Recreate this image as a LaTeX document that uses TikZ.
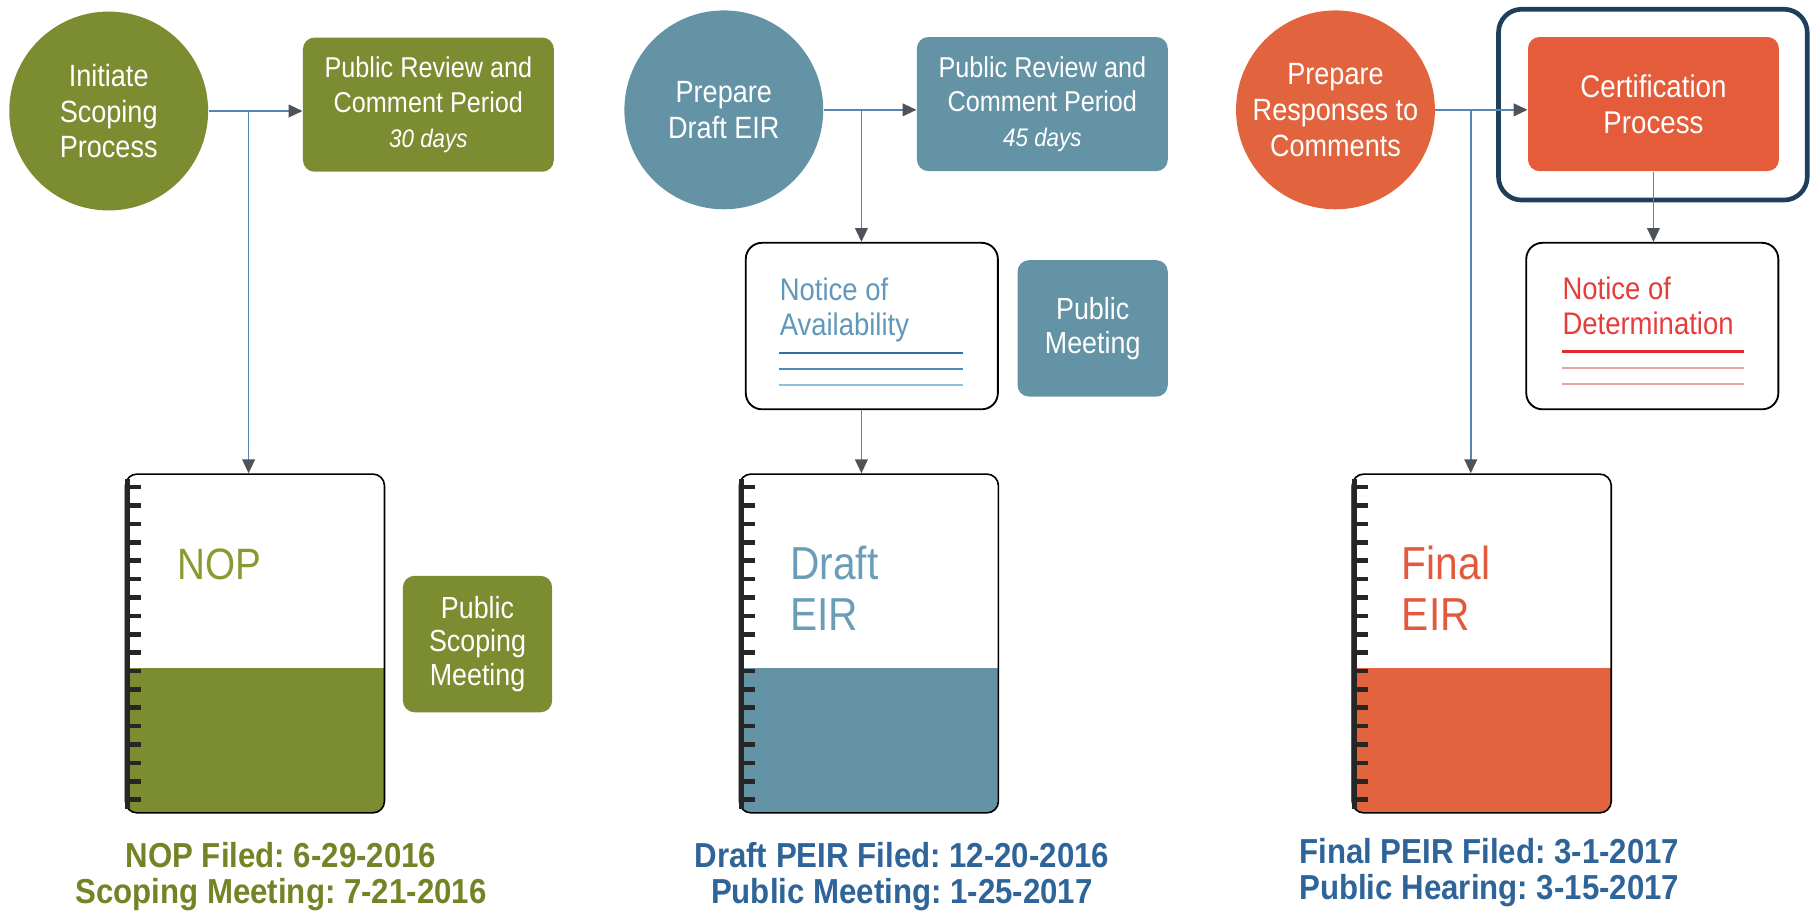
\documentclass[tikz,border=0pt]{standalone}
\usepackage{fontspec}
\setmainfont{Liberation Sans}[FakeStretch=0.88]
\newfontfamily\datefont{Liberation Sans}[FakeStretch=0.9]
\usetikzlibrary{arrows.meta,calc}
\frenchspacing
\definecolor{cgreen}{RGB}{124,140,48}
\definecolor{cblue}{RGB}{100,147,166}
\definecolor{corange}{RGB}{226,100,62}
\definecolor{ccert}{RGB}{228,92,58}
\definecolor{cnavy}{RGB}{31,62,92}
\definecolor{cline}{RGB}{88,132,176}
\definecolor{chead}{RGB}{78,82,90}
\definecolor{tgreen}{RGB}{138,154,48}
\definecolor{tblue}{RGB}{96,152,186}
\definecolor{tbookblue}{RGB}{106,157,184}
\definecolor{tred}{RGB}{228,62,58}
\definecolor{torange}{RGB}{226,90,62}
\definecolor{dgreen}{RGB}{118,130,38}
\definecolor{dblue}{RGB}{46,100,152}
\definecolor{lb1}{RGB}{47,110,168}
\definecolor{lb2}{RGB}{74,140,192}
\definecolor{lb3}{RGB}{140,192,220}
\definecolor{lr1}{RGB}{224,40,50}
\definecolor{lr2}{RGB}{240,160,160}
\tikzset{
  phase/.style={circle, minimum size=86pt, inner sep=0pt, text=white, align=center,
    font=\fontsize{13.3pt}{15.5pt}\selectfont},
  stage/.style={rounded corners=5pt, minimum width=108.5pt, minimum height=58pt, inner sep=0pt,
    text=white, align=center, font=\fontsize{12.4pt}{15pt}\selectfont},
  meet/.style={rounded corners=5pt, minimum width=64.5pt, minimum height=59pt, inner sep=0pt,
    text=white, align=center, font=\fontsize{13.2pt}{14.6pt}\selectfont},
  notice/.style={draw=black, line width=0.8pt, rounded corners=7pt, minimum width=109pt,
    minimum height=72pt, fill=white, inner sep=0pt},
  book/.style={draw=black, line width=0.7pt, rounded corners=5pt, minimum width=112pt,
    minimum height=146.5pt, inner sep=0pt,
    path picture={\fill[#1, sharp corners] ([yshift=62.5pt]path picture bounding box.south west) rectangle (path picture bounding box.south east);}},
  booktext/.style={anchor=north west, inner sep=0pt, align=left, font=\fontsize{20pt}{22pt}\selectfont},
  noticetext/.style={anchor=north west, inner sep=0pt, align=left, font=\fontsize{13.5pt}{15pt}\selectfont},
  datestyle/.style={align=center, inner sep=0pt, font=\datefont\bfseries\fontsize{15pt}{15.5pt}\selectfont},
  arr/.style={draw=cline, line width=0.7pt, -{Triangle[length=6pt,width=5.5pt,color=chead]}},
  spine/.pic={
    \draw[line width=2.4pt, black!85] (2.5,5) -- (2.5,290);
    \foreach \k in {0,...,17} \draw[line width=2pt, black!85] (2.5,{12+15.9*\k}) -- (14,{12+15.9*\k});
  }
}
\begin{document}
\begin{tikzpicture}[x=0.5pt,y=-0.5pt]
\useasboundingbox (0,0) rectangle (1568,788);

% ---------- Column 1 : NOP ----------
\node[phase, fill=cgreen] (c1) at (94,96) {Initiate\\Scoping\\Process};
\node[stage, fill=cgreen] (b1) at (370.5,90.5) {Public Review and\\Comment Period\\{\itshape\fontsize{11pt}{14pt}\selectfont 30 days}};
\coordinate (j1) at (215,96);
\node[book=cgreen] (book1) at (220.5,556.5) {};
\pic at (book1.north west) {spine};
\node[booktext, text=tgreen, font=\fontsize{19pt}{22pt}\selectfont] (t1) at (153,474) {NOP};
\node[meet, fill=cgreen] (m1) at (413,557) {Public\\Scoping\\Meeting};
\node[datestyle, text=dgreen] (d1) at (243,758) {NOP Filed: 6-29-2016\\Scoping Meeting: 7-21-2016};
\draw[arr] (c1) -- (c1 -| b1.west);
\draw[arr] (j1) -- (j1 |- book1.north);

% ---------- Column 2 : Draft EIR ----------
\node[phase, fill=cblue] (c2) at (626,95) {Prepare\\Draft EIR};
\node[stage, fill=cblue] (b2) at (901.5,90) {Public Review and\\Comment Period\\{\itshape\fontsize{11pt}{14pt}\selectfont 45 days}};
\coordinate (j2) at (745,95);
\node[notice] (n1) at (754,282) {};
\node[noticetext, text=tblue] (nt1) at (674,240) {Notice of\\Availability};
\draw[lb1, line width=1pt] (674,305) -- (833,305);
\draw[lb2, line width=0.7pt] (674,319) -- (833,319);
\draw[lb3, line width=0.7pt] (674,333) -- (833,333);
\node[meet, fill=cblue, minimum width=65pt] (m2) at (945,284) {Public\\Meeting};
\node[book=cblue] (book2) at (751.5,556.5) {};
\pic at (book2.north west) {spine};
\node[booktext, text=tbookblue] (t2) at (683,472) {Draft\\EIR};
\node[datestyle, text=dblue] (d2) at (780,758) {Draft PEIR Filed: 12-20-2016\\Public Meeting: 1-25-2017};
\draw[arr] (c2) -- (c2 -| b2.west);
\draw[arr] (j2) -- (j2 |- n1.north);
\draw[arr] (j2 |- n1.south) -- (j2 |- book2.north);

% ---------- Column 3 : Final EIR ----------
\node[draw=cnavy, line width=2pt, rounded corners=10pt, minimum width=133.5pt, minimum height=82.5pt] (frame) at (1429.5,90.5) {};
\node[phase, fill=corange] (c3) at (1155,95) {Prepare\\Responses to\\Comments};
\node[stage, fill=ccert, font=\fontsize{13.6pt}{15.5pt}\selectfont] (b3) at (1430,90) {Certification\\Process};
\coordinate (j3) at (1272,95);
\node[notice] (n2) at (1429,282) {};
\node[noticetext, text=tred] (nt2) at (1351,239) {Notice of\\Determination};
\draw[lr1, line width=1pt] (1351,304) -- (1508,304);
\draw[lr2, line width=0.7pt] (1351,318) -- (1508,318);
\draw[lr2, line width=0.7pt] (1351,332) -- (1508,332);
\node[book=corange] (book3) at (1281.5,556.5) {};
\pic at (book3.north west) {spine};
\node[booktext, text=torange] (t3) at (1212,472) {Final\\EIR};
\node[datestyle, text=dblue] (d3) at (1288,755) {Final PEIR Filed: 3-1-2017\\Public Hearing: 3-15-2017};
\draw[arr] (c3) -- (c3 -| b3.west);
\draw[arr] (j3) -- (j3 |- book3.north);
\draw[arr] (b3.south) -- (b3.south |- n2.north);
\end{tikzpicture}
\end{document}
